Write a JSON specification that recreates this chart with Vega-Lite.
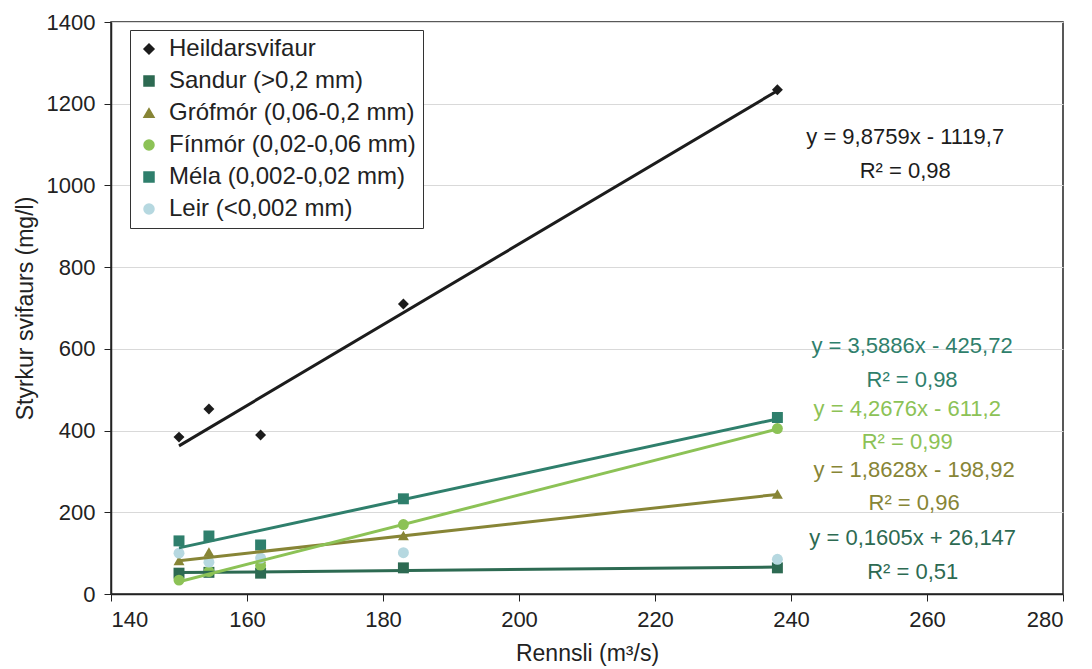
{
  "$schema": "https://vega.github.io/schema/vega-lite/v6.json",
  "width": 952,
  "height": 572,
  "autosize": {"type": "none"},
  "padding": {"left": 111, "top": 22, "right": 29, "bottom": 75},
  "background": "white",
  "config": {
    "font": "Liberation Sans",
    "view": {"stroke": "#222222", "strokeWidth": 1.5}
  },
  "datasets": {
    "pts": [
      {"s": "Heildarsvifaur", "q": 150, "c": 384},
      {"s": "Heildarsvifaur", "q": 154.4, "c": 453},
      {"s": "Heildarsvifaur", "q": 162, "c": 389},
      {"s": "Heildarsvifaur", "q": 183, "c": 710},
      {"s": "Heildarsvifaur", "q": 238, "c": 1234},
      {"s": "Sandur (>0,2 mm)", "q": 150, "c": 51},
      {"s": "Sandur (>0,2 mm)", "q": 154.4, "c": 53},
      {"s": "Sandur (>0,2 mm)", "q": 162, "c": 51},
      {"s": "Sandur (>0,2 mm)", "q": 183, "c": 64},
      {"s": "Sandur (>0,2 mm)", "q": 238, "c": 64},
      {"s": "Grófmór (0,06-0,2 mm)", "q": 150, "c": 82},
      {"s": "Grófmór (0,06-0,2 mm)", "q": 154.4, "c": 103},
      {"s": "Grófmór (0,06-0,2 mm)", "q": 162, "c": 88},
      {"s": "Grófmór (0,06-0,2 mm)", "q": 183, "c": 143},
      {"s": "Grófmór (0,06-0,2 mm)", "q": 238, "c": 245},
      {"s": "Fínmór (0,02-0,06 mm)", "q": 150, "c": 34},
      {"s": "Fínmór (0,02-0,06 mm)", "q": 154.4, "c": 55},
      {"s": "Fínmór (0,02-0,06 mm)", "q": 162, "c": 70},
      {"s": "Fínmór (0,02-0,06 mm)", "q": 183, "c": 170},
      {"s": "Fínmór (0,02-0,06 mm)", "q": 238, "c": 405},
      {"s": "Méla (0,002-0,02 mm)", "q": 150, "c": 130},
      {"s": "Méla (0,002-0,02 mm)", "q": 154.4, "c": 142},
      {"s": "Méla (0,002-0,02 mm)", "q": 162, "c": 120},
      {"s": "Méla (0,002-0,02 mm)", "q": 183, "c": 233},
      {"s": "Méla (0,002-0,02 mm)", "q": 238, "c": 432},
      {"s": "Leir (<0,002 mm)", "q": 150, "c": 100},
      {"s": "Leir (<0,002 mm)", "q": 154.4, "c": 78},
      {"s": "Leir (<0,002 mm)", "q": 162, "c": 88},
      {"s": "Leir (<0,002 mm)", "q": 183, "c": 101},
      {"s": "Leir (<0,002 mm)", "q": 238, "c": 85}
    ],
    "eq": [
      {"s": "Heildarsvifaur", "q": 256.8, "c": 1118, "t": "y = 9,8759x - 1119,7"},
      {"s": "Heildarsvifaur", "q": 256.8, "c": 1035, "t": "R² = 0,98"},
      {"s": "Méla (0,002-0,02 mm)", "q": 257.8, "c": 607, "t": "y = 3,5886x - 425,72"},
      {"s": "Méla (0,002-0,02 mm)", "q": 257.8, "c": 524, "t": "R² = 0,98"},
      {"s": "Fínmór (0,02-0,06 mm)", "q": 257.1, "c": 453, "t": "y = 4,2676x - 611,2"},
      {"s": "Fínmór (0,02-0,06 mm)", "q": 257.1, "c": 372, "t": "R² = 0,99"},
      {"s": "Grófmór (0,06-0,2 mm)", "q": 258.1, "c": 303, "t": "y = 1,8628x - 198,92"},
      {"s": "Grófmór (0,06-0,2 mm)", "q": 258.1, "c": 223, "t": "R² = 0,96"},
      {"s": "Sandur (>0,2 mm)", "q": 257.9, "c": 137, "t": "y = 0,1605x + 26,147"},
      {"s": "Sandur (>0,2 mm)", "q": 257.9, "c": 54, "t": "R² = 0,51"}
    ]
  },
  "layer": [
    {
      "data": {"name": "pts"},
      "mark": {"type": "point", "filled": true, "opacity": 1, "size": 120},
      "encoding": {
        "x": {
          "field": "q", "type": "quantitative",
          "scale": {"domain": [140, 280], "nice": false, "zero": false},
          "axis": {
            "values": [140, 160, 180, 200, 220, 240, 260, 280], "format": "d", "grid": false,
            "title": "Rennsli (m³/s)", "titlePadding": 12, "labelPadding": 8,
            "labelFontSize": 22, "titleFontSize": 23, "titleFontWeight": "normal",
            "labelFont": "Liberation Sans", "titleFont": "Liberation Sans",
            "labelColor": "#222222", "titleColor": "#222222",
            "domainColor": "#222222", "domainWidth": 1.5, "tickColor": "#222222", "tickSize": 7
          }
        },
        "y": {
          "field": "c", "type": "quantitative",
          "scale": {"domain": [0, 1400], "nice": false},
          "axis": {
            "values": [0, 200, 400, 600, 800, 1000, 1200, 1400], "format": "d", "grid": true,
            "gridColor": "#d9d9d9", "gridWidth": 1,
            "title": "Styrkur svifaurs (mg/l)", "titlePadding": 9, "labelPadding": 9,
            "labelFontSize": 22, "titleFontSize": 23, "titleFontWeight": "normal",
            "labelFont": "Liberation Sans", "titleFont": "Liberation Sans",
            "labelColor": "#222222", "titleColor": "#222222",
            "domainColor": "#222222", "domainWidth": 1.5, "tickColor": "#222222", "tickSize": 7
          }
        },
        "color": {
          "field": "s", "type": "nominal",
          "scale": {
            "domain": ["Heildarsvifaur", "Sandur (>0,2 mm)", "Grófmór (0,06-0,2 mm)", "Fínmór (0,02-0,06 mm)", "Méla (0,002-0,02 mm)", "Leir (<0,002 mm)"],
            "range": ["#1c1c1c", "#2d6a52", "#878536", "#8cc256", "#2f7f6c", "#b6d8e0"]
          },
          "legend": {
            "title": null, "orient": "none", "legendX": 19, "legendY": 8,
            "fillColor": "white", "strokeColor": "#333333", "padding": 7,
            "rowPadding": 8, "symbolSize": 100, "symbolOffset": 0, "labelOffset": 8, "symbolOpacity": 1,
            "labelFontSize": 24, "labelFont": "Liberation Sans", "labelColor": "#222222", "labelLimit": 400
          }
        },
        "shape": {
          "field": "s", "type": "nominal",
          "scale": {
            "domain": ["Heildarsvifaur", "Sandur (>0,2 mm)", "Grófmór (0,06-0,2 mm)", "Fínmór (0,02-0,06 mm)", "Méla (0,002-0,02 mm)", "Leir (<0,002 mm)"],
            "range": ["diamond", "square", "triangle-up", "circle", "square", "circle"]
          },
          "legend": {
            "title": null, "orient": "none", "legendX": 19, "legendY": 8,
            "fillColor": "white", "strokeColor": "#333333", "padding": 7,
            "rowPadding": 8, "symbolSize": 100, "symbolOffset": 0, "labelOffset": 8, "symbolOpacity": 1,
            "labelFontSize": 24, "labelFont": "Liberation Sans", "labelColor": "#222222", "labelLimit": 400
          }
        }
      }
    },
    {
      "data": {"name": "pts"},
      "transform": [
        {"filter": "datum.s !== 'Leir (<0,002 mm)'"},
        {"regression": "c", "on": "q", "groupby": ["s"]}
      ],
      "mark": {"type": "line", "strokeWidth": 3},
      "encoding": {
        "x": {"field": "q", "type": "quantitative"},
        "y": {"field": "c", "type": "quantitative"},
        "color": {"field": "s", "type": "nominal", "legend": null}
      }
    },
    {
      "data": {"name": "eq"},
      "mark": {"type": "text", "fontSize": 22, "font": "Liberation Sans", "align": "center", "baseline": "middle"},
      "encoding": {
        "x": {"field": "q", "type": "quantitative"},
        "y": {"field": "c", "type": "quantitative"},
        "text": {"field": "t"},
        "color": {"field": "s", "type": "nominal", "legend": null}
      }
    }
  ]
}
